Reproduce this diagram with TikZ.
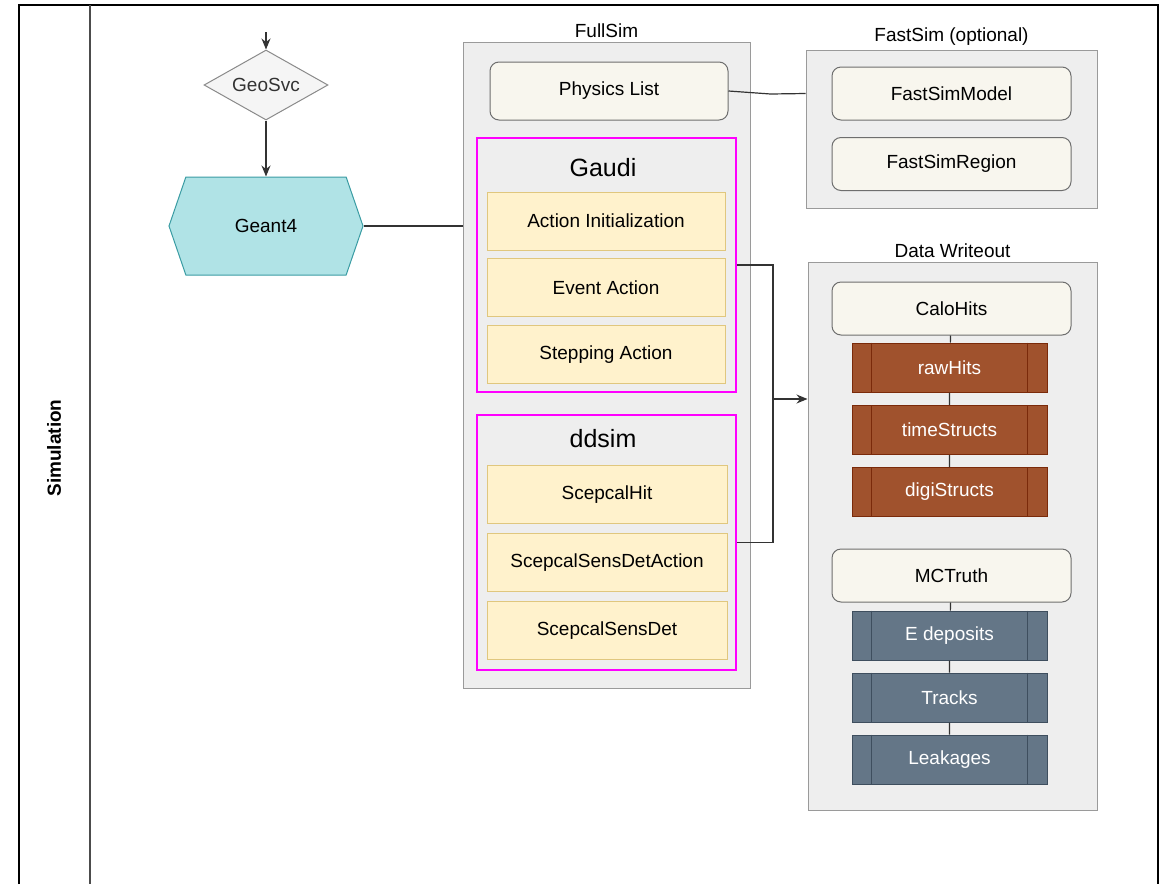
\documentclass[tikz,border=0pt]{standalone}
\usepackage{fontspec}
\setmainfont{Liberation Sans}
\usetikzlibrary{shapes.geometric,shapes.symbols,arrows.meta}

\definecolor{groupfill}{HTML}{EEEEEE}
\definecolor{groupline}{HTML}{9A9A9A}
\definecolor{pinkline}{HTML}{FF00FF}
\definecolor{softfill}{HTML}{F8F6EE}
\definecolor{softline}{HTML}{6E6E6E}
\definecolor{yelfill}{HTML}{FFF2CC}
\definecolor{yelline}{HTML}{E0C77E}
\definecolor{rustfill}{HTML}{A0522D}
\definecolor{rustline}{HTML}{7A2A0A}
\definecolor{slatefill}{HTML}{647687}
\definecolor{slateline}{HTML}{3E4E5E}
\definecolor{tealfill}{HTML}{B0E3E6}
\definecolor{tealline}{HTML}{3A9CA3}
\definecolor{geofill}{HTML}{F5F5F5}
\definecolor{geoline}{HTML}{8A8A8A}
\definecolor{geotext}{HTML}{333333}
\definecolor{wireline}{HTML}{333333}

\begin{document}
\begin{tikzpicture}[x=1pt, y=-1pt, >={Stealth[length=11pt,width=9pt]}]
	\tikzstyle{every node}=[font=\fontsize{19}{22}\selectfont, inner sep=0pt, align=center]
	\tikzstyle{group}=[draw=groupline, fill=groupfill, line width=1pt]
	\tikzstyle{pinkbox}=[draw=pinkline, fill=groupfill, line width=2.5pt]
	\tikzstyle{soft}=[draw=softline, fill=softfill, line width=1pt, rounded corners=9pt, minimum width=239pt, minimum height=53pt]
	\tikzstyle{yel}=[draw=yelline, fill=yelfill, line width=1pt, minimum width=238pt, minimum height=58pt]
	\tikzstyle{rust}=[draw=rustline, fill=rustfill, text=white, line width=1pt, minimum width=195pt, minimum height=49pt]
	\tikzstyle{slate}=[draw=slateline, fill=slatefill, text=white, line width=1pt, minimum width=195pt, minimum height=49pt]
	\tikzstyle{wire}=[draw=wireline, line width=1.2pt]
	\useasboundingbox (0,0) rectangle (1165,884);

	% pool and lane
	\draw[line width=2pt] (19,884) -- (19,5) -- (1158,5) -- (1158,884);
	\draw[line width=2.5pt, black!70] (90,5) -- (90,884);
	\node[rotate=90, font=\bfseries\fontsize{19}{22}\selectfont] (lane) at (54,448) {Simulation};

	% geometry and Geant4
	\coordinate (start) at (266,32);
	\node[diamond, aspect=1.8, minimum width=124pt, minimum height=70pt, draw=geoline, fill=geofill, text=geotext, line width=1pt] (geo) at (266,85) {GeoSvc};
	\node[signal, signal to=west and east, signal pointer angle=142, minimum width=194pt, minimum height=98pt, draw=tealline, fill=tealfill, line width=1pt] (geant) at (266,226) {Geant4};
	\draw[->, wire] (start) -- (geo.north);
	\draw[->, wire] (geo.south) -- (geant.north);

	% FullSim
	\node[group, minimum width=287pt, minimum height=646pt, label={[label distance=4pt]above:FullSim}] (fullsim) at (606.5,365) {};
	\node[soft, minimum width=238pt, minimum height=58pt] (plist) at (609,91) {Physics List};
	\node[pinkbox, minimum width=259pt, minimum height=254pt] (gaudi) at (606.5,265) {};
	\node[font=\fontsize{25}{28}\selectfont] (gaudititle) at (603,168) {Gaudi};
	\node[yel] (ainit) at (606,221) {Action Initialization};
	\node[yel] (evact) at (606,287.5) {Event Action};
	\node[yel] (stepact) at (606,354.5) {Stepping Action};
	\node[pinkbox, minimum width=259pt, minimum height=255pt] (ddsim) at (606.5,542.5) {};
	\node[font=\fontsize{25}{28}\selectfont] (ddsimtitle) at (603,439) {ddsim};
	\node[yel, minimum width=240pt] (hit) at (607,494.5) {ScepcalHit};
	\node[yel, minimum width=240pt] (sdact) at (607,562.5) {ScepcalSensDetAction};
	\node[yel, minimum width=240pt] (sdet) at (607,630.5) {ScepcalSensDet};
	\draw[wire] (geant.east) -- (geant.east -| fullsim.west);

	% FastSim
	\node[group, minimum width=291pt, minimum height=158pt, label={[label distance=4pt]above:FastSim (optional)}] (fastsim) at (951.5,129) {};
	\node[soft] (fsmodel) at (951.5,93.5) {FastSimModel};
	\node[soft] (fsregion) at (951.5,164) {FastSimRegion};
	\draw[wire] (plist.east) -- ++(42,3) -- (fastsim.west |- fsmodel);

	% Data Writeout
	\node[group, minimum width=289pt, minimum height=548pt, label={[label distance=4pt]above:Data Writeout}] (dw) at (952.5,536) {};
	\node[soft] (calo) at (951.5,308.5) {CaloHits};
	\node[rust] (raw) at (949.5,367.5) {rawHits};
	\node[rust] (time) at (949.5,430) {timeStructs};
	\node[rust] (digi) at (949.5,492) {digiStructs};
	\node[soft] (mct) at (951.5,575.5) {MCTruth};
	\node[slate] (edep) at (949.5,635.5) {E deposits};
	\node[slate] (tracks) at (949.5,697.5) {Tracks};
	\node[slate] (leak) at (949.5,759.5) {Leakages};
	\foreach \n in {raw,time,digi}
		\draw[rustline, line width=1pt] ([xshift=20pt]\n.north west) -- ([xshift=20pt]\n.south west)
			([xshift=-20pt]\n.north east) -- ([xshift=-20pt]\n.south east);
	\foreach \n in {edep,tracks,leak}
		\draw[slateline, line width=1pt] ([xshift=20pt]\n.north west) -- ([xshift=20pt]\n.south west)
			([xshift=-20pt]\n.north east) -- ([xshift=-20pt]\n.south east);
	\draw[wire] (calo) -- (raw) (raw) -- (time) (time) -- (digi);
	\draw[wire] (mct) -- (edep) (edep) -- (tracks) (tracks) -- (leak);

	% writeout link
	\coordinate (join) at (773,399);
	\draw[wire] (gaudi.east) -- (gaudi.east -| join) |- (ddsim.east);
	\draw[->, wire] (join) -- (join -| dw.west);
\end{tikzpicture}
\end{document}
